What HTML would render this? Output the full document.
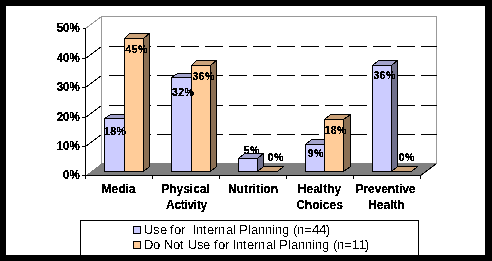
<!DOCTYPE html>
<html><head><meta charset="utf-8"><style>
html,body{margin:0;padding:0;background:#000;}
svg{display:block;will-change:transform;}
text{font-family:"Liberation Sans",sans-serif;fill:#000;}
.dl{font-weight:bold;font-size:10.5px;letter-spacing:0.45px;}
.al{font-weight:bold;font-size:12px;}
.cl{font-weight:bold;font-size:12px;}
.lg{font-size:13px;}
</style></head><body>
<svg width="492" height="261" viewBox="0 0 492 261" shape-rendering="crispEdges">
<defs><filter id="crispD" x="0" y="0" width="100%" height="100%" filterUnits="userSpaceOnUse"><feComponentTransfer><feFuncA type="discrete" tableValues="0 1 1"/></feComponentTransfer></filter><filter id="crispA" x="0" y="0" width="100%" height="100%" filterUnits="userSpaceOnUse"><feComponentTransfer><feFuncA type="discrete" tableValues="0 1 1"/></feComponentTransfer></filter><filter id="crispC" x="0" y="0" width="100%" height="100%" filterUnits="userSpaceOnUse"><feComponentTransfer><feFuncA type="discrete" tableValues="0 1 1"/></feComponentTransfer></filter><filter id="crispL" x="0" y="0" width="100%" height="100%" filterUnits="userSpaceOnUse"><feComponentTransfer><feFuncA type="discrete" tableValues="0 1"/></feComponentTransfer></filter></defs>
<rect x="0" y="0" width="492" height="261" fill="#000"/>
<rect x="6" y="6" width="479" height="249" fill="#fff"/>
<polygon points="85,176 101,164 101,163 437,163 437,164 421,176" fill="#808080"/>
<path d="M85.5,28.5 L101.5,16.5 L436.5,16.5 L436.5,163" fill="none" stroke="#999999" stroke-width="1"/>
<rect x="101" y="16" width="1" height="147" fill="#999999"/>
<path d="M85.5,58.5 L101.5,46.5" stroke="#000" stroke-width="1" fill="none"/>
<rect x="109" y="46" width="18" height="1" fill="#000"/>
<rect x="133" y="46" width="18" height="1" fill="#000"/>
<rect x="157" y="46" width="18" height="1" fill="#000"/>
<rect x="181" y="46" width="18" height="1" fill="#000"/>
<rect x="205" y="46" width="18" height="1" fill="#000"/>
<rect x="229" y="46" width="18" height="1" fill="#000"/>
<rect x="253" y="46" width="18" height="1" fill="#000"/>
<rect x="277" y="46" width="18" height="1" fill="#000"/>
<rect x="301" y="46" width="18" height="1" fill="#000"/>
<rect x="325" y="46" width="18" height="1" fill="#000"/>
<rect x="349" y="46" width="18" height="1" fill="#000"/>
<rect x="373" y="46" width="18" height="1" fill="#000"/>
<rect x="397" y="46" width="18" height="1" fill="#000"/>
<rect x="421" y="46" width="16" height="1" fill="#000"/>
<path d="M85.5,87.5 L101.5,75.5" stroke="#000" stroke-width="1" fill="none"/>
<rect x="109" y="75" width="18" height="1" fill="#000"/>
<rect x="133" y="75" width="18" height="1" fill="#000"/>
<rect x="157" y="75" width="18" height="1" fill="#000"/>
<rect x="181" y="75" width="18" height="1" fill="#000"/>
<rect x="205" y="75" width="18" height="1" fill="#000"/>
<rect x="229" y="75" width="18" height="1" fill="#000"/>
<rect x="253" y="75" width="18" height="1" fill="#000"/>
<rect x="277" y="75" width="18" height="1" fill="#000"/>
<rect x="301" y="75" width="18" height="1" fill="#000"/>
<rect x="325" y="75" width="18" height="1" fill="#000"/>
<rect x="349" y="75" width="18" height="1" fill="#000"/>
<rect x="373" y="75" width="18" height="1" fill="#000"/>
<rect x="397" y="75" width="18" height="1" fill="#000"/>
<rect x="421" y="75" width="16" height="1" fill="#000"/>
<path d="M85.5,117.5 L101.5,105.5" stroke="#000" stroke-width="1" fill="none"/>
<rect x="109" y="105" width="18" height="1" fill="#000"/>
<rect x="133" y="105" width="18" height="1" fill="#000"/>
<rect x="157" y="105" width="18" height="1" fill="#000"/>
<rect x="181" y="105" width="18" height="1" fill="#000"/>
<rect x="205" y="105" width="18" height="1" fill="#000"/>
<rect x="229" y="105" width="18" height="1" fill="#000"/>
<rect x="253" y="105" width="18" height="1" fill="#000"/>
<rect x="277" y="105" width="18" height="1" fill="#000"/>
<rect x="301" y="105" width="18" height="1" fill="#000"/>
<rect x="325" y="105" width="18" height="1" fill="#000"/>
<rect x="349" y="105" width="18" height="1" fill="#000"/>
<rect x="373" y="105" width="18" height="1" fill="#000"/>
<rect x="397" y="105" width="18" height="1" fill="#000"/>
<rect x="421" y="105" width="16" height="1" fill="#000"/>
<path d="M85.5,146.5 L101.5,134.5" stroke="#000" stroke-width="1" fill="none"/>
<rect x="109" y="134" width="18" height="1" fill="#000"/>
<rect x="133" y="134" width="18" height="1" fill="#000"/>
<rect x="157" y="134" width="18" height="1" fill="#000"/>
<rect x="181" y="134" width="18" height="1" fill="#000"/>
<rect x="205" y="134" width="18" height="1" fill="#000"/>
<rect x="229" y="134" width="18" height="1" fill="#000"/>
<rect x="253" y="134" width="18" height="1" fill="#000"/>
<rect x="277" y="134" width="18" height="1" fill="#000"/>
<rect x="301" y="134" width="18" height="1" fill="#000"/>
<rect x="325" y="134" width="18" height="1" fill="#000"/>
<rect x="349" y="134" width="18" height="1" fill="#000"/>
<rect x="373" y="134" width="18" height="1" fill="#000"/>
<rect x="397" y="134" width="18" height="1" fill="#000"/>
<rect x="421" y="134" width="16" height="1" fill="#000"/>
<path d="M420.5,175.5 L436.5,163.5" stroke="#000" stroke-width="1" fill="none"/>
<rect x="85" y="28" width="1" height="148" fill="#000"/>
<rect x="85" y="175" width="336" height="1" fill="#000"/>
<rect x="83" y="28" width="2" height="1" fill="#000"/>
<rect x="82" y="58" width="3" height="1" fill="#000"/>
<rect x="82" y="87" width="3" height="1" fill="#000"/>
<rect x="82" y="117" width="3" height="1" fill="#000"/>
<rect x="82" y="146" width="3" height="1" fill="#000"/>
<rect x="82" y="175" width="3" height="1" fill="#000"/>
<rect x="85" y="175" width="1" height="4" fill="#000"/>
<rect x="152" y="175" width="1" height="4" fill="#000"/>
<rect x="219" y="175" width="1" height="4" fill="#000"/>
<rect x="286" y="175" width="1" height="4" fill="#000"/>
<rect x="353" y="175" width="1" height="4" fill="#000"/>
<rect x="420" y="175" width="1" height="4" fill="#000"/>
<polygon points="104.5,118.5 110.5,114.5 130.5,114.5 124.5,118.5" fill="#A3A3CC" stroke="#000" stroke-width="1"/>
<polygon points="124.5,118.5 130.5,114.5 130.5,166.5 124.5,171.5" fill="#70708C" stroke="#000" stroke-width="1"/>
<rect x="104.5" y="118.5" width="20" height="53" fill="#CCCCFF" stroke="#000" stroke-width="1"/>
<polygon points="124.5,38.5 129.5,33.5 149.5,33.5 143.5,38.5" fill="#CCA37A" stroke="#000" stroke-width="1"/>
<polygon points="143.5,38.5 149.5,33.5 149.5,166.5 143.5,171.5" fill="#8C7054" stroke="#000" stroke-width="1"/>
<rect x="124.5" y="38.5" width="19" height="133" fill="#FFCC99" stroke="#000" stroke-width="1"/>
<polygon points="171.5,77.5 177.5,73.5 197.5,73.5 191.5,77.5" fill="#A3A3CC" stroke="#000" stroke-width="1"/>
<polygon points="191.5,77.5 197.5,73.5 197.5,166.5 191.5,171.5" fill="#70708C" stroke="#000" stroke-width="1"/>
<rect x="171.5" y="77.5" width="20" height="94" fill="#CCCCFF" stroke="#000" stroke-width="1"/>
<polygon points="191.5,65.5 196.5,60.5 216.5,60.5 210.5,65.5" fill="#CCA37A" stroke="#000" stroke-width="1"/>
<polygon points="210.5,65.5 216.5,60.5 216.5,166.5 210.5,171.5" fill="#8C7054" stroke="#000" stroke-width="1"/>
<rect x="191.5" y="65.5" width="19" height="106" fill="#FFCC99" stroke="#000" stroke-width="1"/>
<polygon points="238.5,158.5 244.5,153.5 263.5,153.5 257.5,158.5" fill="#A3A3CC" stroke="#000" stroke-width="1"/>
<polygon points="257.5,158.5 263.5,153.5 263.5,166.5 257.5,171.5" fill="#70708C" stroke="#000" stroke-width="1"/>
<rect x="238.5" y="158.5" width="19" height="13" fill="#CCCCFF" stroke="#000" stroke-width="1"/>
<polygon points="257.5,171.5 263.5,166.5 283.5,166.5 277.5,171.5" fill="#CCA37A" stroke="#000" stroke-width="1"/>
<polygon points="305.5,144.5 311.5,139.5 330.5,139.5 324.5,144.5" fill="#A3A3CC" stroke="#000" stroke-width="1"/>
<polygon points="324.5,144.5 330.5,139.5 330.5,166.5 324.5,171.5" fill="#70708C" stroke="#000" stroke-width="1"/>
<rect x="305.5" y="144.5" width="19" height="27" fill="#CCCCFF" stroke="#000" stroke-width="1"/>
<polygon points="324.5,119.5 330.5,114.5 350.5,114.5 343.5,119.5" fill="#CCA37A" stroke="#000" stroke-width="1"/>
<polygon points="343.5,119.5 350.5,114.5 350.5,166.5 343.5,171.5" fill="#8C7054" stroke="#000" stroke-width="1"/>
<rect x="324.5" y="119.5" width="19" height="52" fill="#FFCC99" stroke="#000" stroke-width="1"/>
<polygon points="372.5,65.5 378.5,60.5 397.5,60.5 391.5,65.5" fill="#A3A3CC" stroke="#000" stroke-width="1"/>
<polygon points="391.5,65.5 397.5,60.5 397.5,166.5 391.5,171.5" fill="#70708C" stroke="#000" stroke-width="1"/>
<rect x="372.5" y="65.5" width="19" height="106" fill="#CCCCFF" stroke="#000" stroke-width="1"/>
<polygon points="391.5,171.5 397.5,166.5 417.5,166.5 411.5,171.5" fill="#CCA37A" stroke="#000" stroke-width="1"/>
<g filter="url(#crispD)"><text x="115.2" y="135" class="dl" text-anchor="middle">18%</text><text x="136.7" y="53" class="dl" text-anchor="middle">45%</text><text x="183.2" y="96" class="dl" text-anchor="middle">32%</text><text x="203.7" y="80" class="dl" text-anchor="middle">36%</text><text x="251.7" y="154" class="dl" text-anchor="middle">5%</text><text x="275.7" y="161" class="dl" text-anchor="middle">0%</text><text x="315.7" y="157" class="dl" text-anchor="middle">9%</text><text x="335.7" y="134" class="dl" text-anchor="middle">18%</text><text x="384.7" y="79" class="dl" text-anchor="middle">36%</text><text x="406.7" y="161" class="dl" text-anchor="middle">0%</text></g>
<g filter="url(#crispA)"><text transform="translate(79.7,32) scale(0.96,1)" class="al" text-anchor="end">50%</text><text transform="translate(79.7,62) scale(0.96,1)" class="al" text-anchor="end">40%</text><text transform="translate(79.7,91) scale(0.96,1)" class="al" text-anchor="end">30%</text><text transform="translate(79.7,121) scale(0.96,1)" class="al" text-anchor="end">20%</text><text transform="translate(79.7,150) scale(0.96,1)" class="al" text-anchor="end">10%</text><text transform="translate(79.7,179) scale(0.96,1)" class="al" text-anchor="end">0%</text></g>
<g filter="url(#crispC)"><text x="118.5" y="193" class="cl" text-anchor="middle">Media</text><text x="185.5" y="193" class="cl" text-anchor="middle">Physical</text><text x="186.5" y="209" class="cl" text-anchor="middle" style="letter-spacing:-0.3px">Activity</text><text x="253.0" y="193" class="cl" text-anchor="middle">Nutrition</text><text x="319.5" y="193" class="cl" text-anchor="middle">Healthy</text><text x="319.5" y="209" class="cl" text-anchor="middle">Choices</text><text x="385.5" y="193" class="cl" text-anchor="middle" style="letter-spacing:-0.1px">Preventive</text><text x="386.5" y="209" class="cl" text-anchor="middle">Health</text></g>
<rect x="80.5" y="220.5" width="338" height="60" fill="none" stroke="#000" stroke-width="1"/>
<rect x="133.5" y="226.5" width="7" height="7" fill="#CCCCFF" stroke="#000" stroke-width="1"/>
<rect x="133.5" y="241.5" width="7" height="7" fill="#FFCC99" stroke="#000" stroke-width="1"/>
<g filter="url(#crispL)"><text x="144 153 160 170 174 181 193 196 203 207 214 218 226 233 239 248 251 258 265 272 275 282 293 297 304 312 319 326" y="234" class="lg">UseforInternalPlanning(n=44)</text><text x="144 153 164 173 180 188 197 203 214 218 225 233 236 243 247 254 258 266 273 279 288 291 298 305 312 315 322 333 337 344 352 359 365" y="249" class="lg">DoNotUseforInternalPlanning(n=11)</text></g>
<rect x="0" y="255" width="492" height="6" fill="#000"/>
</svg>
</body></html>
